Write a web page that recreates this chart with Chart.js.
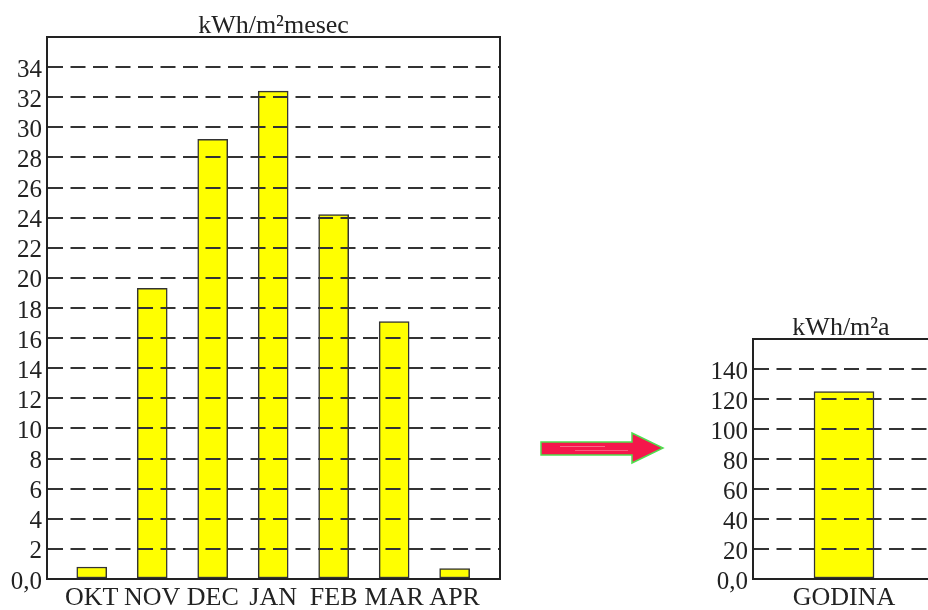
<!DOCTYPE html>
<html>
<head>
<meta charset="utf-8">
<script src="https://cdn.jsdelivr.net/npm/chart.js@4/dist/chart.umd.min.js"></script>
<style>
  html, body { margin: 0; padding: 0; background: #fff; overflow: hidden; width: 928px; height: 610px; }
  body { position: relative; }
  #monthly { position: absolute; left: 0; top: 0; }
  #annual { position: absolute; left: 700px; top: 0; }
  #arrow { position: absolute; left: 530px; top: 420px; }
</style>
</head>
<body>
<canvas id="monthly" width="560" height="610" style="width:560px;height:610px"></canvas>
<svg id="arrow" width="150" height="60" viewBox="0 0 150 60">
  <polygon points="11,22 102,22 102,13 133,28 102,43 102,35 11,35"
           fill="#f5174b" stroke="#4ee04e" stroke-width="1.5" stroke-linejoin="miter"/>
  <line x1="30" y1="26.5" x2="75" y2="26.5" stroke="#ff8aa0" stroke-width="1.2" opacity="0.7"/>
  <line x1="45" y1="30.5" x2="98" y2="30.5" stroke="#ff8aa0" stroke-width="1.2" opacity="0.6"/>
</svg>
<canvas id="annual" width="300" height="610" style="width:300px;height:610px"></canvas>

<script>
// Heating energy demand per month of the heating season
const months = ['OKT', 'NOV', 'DEC', 'JAN', 'FEB', 'MAR', 'APR'];
const monthlyValues = [0.8, 19.3, 29.2, 32.4, 24.2, 17.1, 0.7];

// Annual total
const yearLabels = ['GODINA'];
const yearValues = [125];

// Axis texts
const monthlyUnit = 'kWh/m²mesec';
const yearUnit = 'kWh/m²a';
const zeroLabel = '0,0';

const FONT = '"Liberation Serif", "Times New Roman", serif';
const INK = '#222';
const GRID = '#333';

// Draws the closed box around the plot area and the unit text above it
const framePlugin = {
  id: 'frame',
  afterDraw(chart, args, opts) {
    const { ctx, chartArea: a } = chart;
    ctx.save();
    ctx.strokeStyle = INK;
    ctx.lineWidth = 2;
    ctx.strokeRect(a.left, a.top, a.right - a.left, a.bottom - a.top);
    ctx.fillStyle = INK;
    ctx.font = '26px ' + FONT;
    ctx.textAlign = 'center';
    ctx.textBaseline = 'alphabetic';
    ctx.fillText(opts.text, (a.left + a.right) / 2 + (opts.dx || 0), a.top - 4);
    ctx.restore();
  }
};

function yScale(max, step, axisWidth) {
  return {
    min: 0,
    max: max,
    ticks: {
      stepSize: step,
      autoSkip: false,
      padding: 5,
      color: INK,
      labelOffset: 3,
      font: { family: FONT, size: 25 },
      callback: v => (v === 0 ? zeroLabel : (v >= max ? '' : v))
    },
    grid: {
      z: 1,
      drawTicks: false,
      lineWidth: 2,
      color: c => (c.tick && (c.tick.value === 0 || c.tick.value >= max)) ? 'rgba(0,0,0,0)' : GRID
    },
    border: { color: INK, width: 2, z: 2, dash: [15, 7.5] },
    afterFit: s => { s.width = axisWidth; }
  };
}

const xTickStyle = {
  color: INK,
  padding: 4,
  autoSkip: false,
  maxRotation: 0,
  font: { family: FONT, size: 26 }
};

const barStyle = {
  backgroundColor: '#ffff00',
  borderColor: '#333',
  borderWidth: 1.5,
  borderSkipped: false
};

new Chart(document.getElementById('monthly'), {
  type: 'bar',
  data: {
    datasets: [{
      ...barStyle,
      barThickness: 30,
      data: monthlyValues.map((v, i) => ({ x: i, y: v }))
    }]
  },
  options: {
    responsive: false,
    animation: false,
    layout: { padding: { top: 37, right: 60, left: 0, bottom: 0 } },
    plugins: { legend: { display: false }, tooltip: { enabled: false }, frame: { text: monthlyUnit } },
    scales: {
      x: {
        type: 'linear',
        offset: false,
        min: -0.74,
        max: 6.75,
        afterBuildTicks: s => { s.ticks = months.map((_, i) => ({ value: i })); },
        ticks: { ...xTickStyle, callback: v => months[v] ?? '' },
        grid: { display: false, drawTicks: false },
        border: { color: INK, width: 2, z: 2 },
        afterFit: s => { s.height = 31; }
      },
      y: yScale(36, 2, 47)
    }
  },
  plugins: [framePlugin]
});

new Chart(document.getElementById('annual'), {
  type: 'bar',
  data: {
    labels: yearLabels,
    datasets: [{ ...barStyle, barThickness: 60, data: yearValues }]
  },
  options: {
    responsive: false,
    animation: false,
    layout: { padding: { top: 339, right: 65, left: 0, bottom: 0 } },
    plugins: { legend: { display: false }, tooltip: { enabled: false }, frame: { text: yearUnit, dx: -3 } },
    scales: {
      x: {
        ticks: xTickStyle,
        grid: { display: false, drawTicks: false },
        border: { color: INK, width: 2, z: 2 },
        afterFit: s => { s.height = 31; }
      },
      y: yScale(160, 20, 53)
    }
  },
  plugins: [framePlugin]
});
</script>
</body>
</html>
